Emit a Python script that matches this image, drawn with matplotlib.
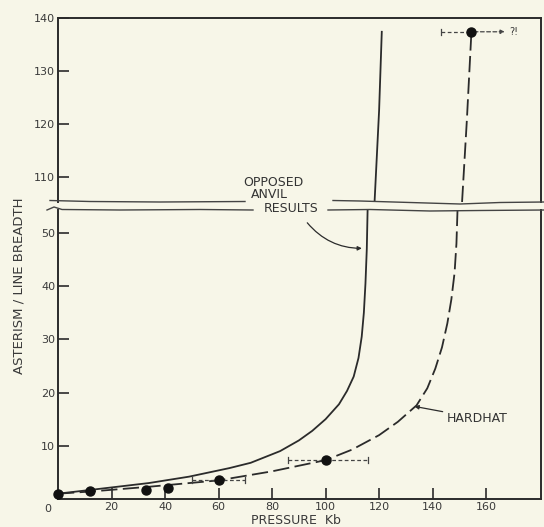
import matplotlib
matplotlib.use("Agg")
import matplotlib.pyplot as plt

# measured points (pressure in Kb, asterism / line breadth)
pts_x = [0, 12, 33, 41, 60, 100]
pts_y = [1.0, 1.5, 1.7, 2.0, 3.6, 7.3]
err_x = [60, 100]
err_y = [3.6, 7.3]
err_lo = [50, 86]
err_hi = [70, 116]
top_pt_x = 154.5
top_pt_y = 137.4
top_err_lo = 143
top_err_hi = 168

# opposed anvil curve (solid)
anvil_x = [0, 12, 34, 49, 64, 72, 83, 90, 95, 100, 105, 108, 110.5, 112.3,
           113.5, 114.3, 114.9, 115.4, 115.7]
anvil_y = [1.0, 1.7, 3.0, 4.2, 5.8, 6.8, 9.0, 11.0, 12.8, 15.0, 17.8, 20.3, 23.0,
           26.5, 30.5, 35.0, 40.5, 47.0, 54.3]
anvil_up_x = [118.3, 120.0, 121.0]
anvil_up_y = [105.3, 122.6, 137.4]

# hardhat curve (dashed)
hard_x = [0, 12, 34, 60, 80, 100, 110, 120, 127, 134, 138, 141, 143.5, 145.5,
          147, 148.2, 148.9, 149.3]
hard_y = [1.0, 1.4, 2.3, 3.5, 5.2, 7.3, 9.3, 12.0, 14.5, 17.6, 20.8, 24.5, 28.5,
          33.0, 37.5, 42.5, 48.0, 54.3]
hard_up_x = [151.0, 152.8, 154.5]
hard_up_y = [105.3, 120.8, 137.4]

bg = "#f7f6e8"
ink = "#2b2b2b"
W, H = 544, 527

fig = plt.figure(figsize=(5.44, 5.27), dpi=100, facecolor=bg)

def fx(px):
    return px / W

def fy(py):
    return 1 - py / H

left, right = fx(58), fx(541)
ax_top = fig.add_axes([left, fy(202), right - left, fy(18) - fy(202)])
ax_bot = fig.add_axes([left, fy(499), right - left, fy(210) - fy(499)])

for ax in (ax_top, ax_bot):
    ax.set_facecolor("none")
    ax.set_xlim(0, 180.5)
    for s in ax.spines.values():
        s.set_color(ink)
        s.set_linewidth(1.4)
    ax.tick_params(direction="in", length=8, width=1.2, color=ink,
                   labelcolor="#3a3a3a", labelsize=8, pad=2)

ax_top.set_ylim(105.3, 140)
ax_top.spines["bottom"].set_visible(False)
ax_top.set_xticks([])
ax_top.set_yticks([110, 120, 130, 140])

ax_bot.set_ylim(0, 54.3)
ax_bot.spines["top"].set_visible(False)
ax_bot.set_yticks([10, 20, 30, 40, 50])
ax_bot.set_xticks([20, 40, 60, 80, 100, 120, 140, 160])
ax_bot.tick_params(axis="x", pad=2)
ax_bot.text(-2.5, -1.0, "0", ha="right", va="top", fontsize=8, color="#3a3a3a")

# curves
ax_bot.plot(anvil_x, anvil_y, color=ink, lw=1.3)
ax_top.plot(anvil_up_x, anvil_up_y, color=ink, lw=1.3)
ax_bot.plot(hard_x, hard_y, color=ink, lw=1.3, dashes=(9, 3))
ax_top.plot(hard_up_x, hard_up_y, color=ink, lw=1.3, dashes=(9, 3))

# points and error bars
ax_bot.plot(pts_x, pts_y, "o", color="#111111", ms=6.5, clip_on=False, zorder=5)
for x, y, lo, hi in zip(err_x, err_y, err_lo, err_hi):
    ax_bot.plot([lo, hi], [y, y], color="#444444", lw=0.9, dashes=(3, 2))
    ax_bot.plot([lo, lo], [y - 0.6, y + 0.6], color="#444444", lw=0.9)
    ax_bot.plot([hi, hi], [y - 0.6, y + 0.6], color="#444444", lw=0.9)

ax_top.plot(top_pt_x, top_pt_y, "o", color="#111111", ms=6.5, zorder=5)
ax_top.plot([top_err_lo, top_pt_x], [top_pt_y, top_pt_y], color="#444444", lw=0.9, dashes=(3, 2))
ax_top.plot([top_err_lo, top_err_lo], [top_pt_y - 0.6, top_pt_y + 0.6], color="#444444", lw=0.9)
ax_top.annotate("", xy=(top_err_hi, top_pt_y), xytext=(top_pt_x, top_pt_y),
                arrowprops=dict(arrowstyle="-|>", color="#444444", lw=0.9,
                                linestyle=(0, (3, 2)), mutation_scale=6))
ax_top.text(top_err_hi + 0.5, top_pt_y, "?!", ha="left", va="center",
            fontsize=7, color="#3a3a3a")

# axis break lines (hand-drawn look), split where the label sits
brk_segments = [
    [(50, 200.5), (90, 201.5), (160, 202), (245, 201.5)],
    [(333, 200.5), (360, 201), (410, 202.5), (460, 204), (500, 202.5), (544, 202)],
    [(47, 210), (54, 207), (62, 209.5), (120, 210), (200, 209.5), (253, 210)],
    [(328, 210), (370, 209.5), (430, 211), (480, 210.5), (544, 210)],
]
for pts in brk_segments:
    fig.add_artist(plt.Line2D([fx(p[0]) for p in pts], [fy(p[1]) for p in pts],
                              color="#444444", lw=1.0, transform=fig.transFigure))

# labels on the break
lbl = dict(fontsize=9, color="#333333", ha="center", va="center")
fig.text(fx(273), fy(183), "OPPOSED", **lbl)
fig.text(fx(269), fy(195), "ANVIL", **lbl)
fig.text(fx(291), fy(209), "RESULTS", **lbl)

ax_bot.annotate("", xy=(114.6, 47.1), xytext=(92.5, 52.3),
                arrowprops=dict(arrowstyle="-|>", color=ink, lw=0.9,
                                connectionstyle="arc3,rad=0.25", mutation_scale=6))
ax_bot.annotate("HARDHAT", xy=(133.2, 17.4), xytext=(145.3, 15.2),
                fontsize=9, color="#333333", ha="left", va="center",
                arrowprops=dict(arrowstyle="-|>", color=ink, lw=0.9,
                                shrinkA=1, shrinkB=0, mutation_scale=6))

fig.text(fx(296), fy(520), "PRESSURE  Kb", fontsize=9, color="#3a3a3a",
         ha="center", va="center")
fig.text(fx(19), fy(286), "ASTERISM / LINE BREADTH", fontsize=9.5,
         color="#3a3a3a", rotation=90, ha="center", va="center")

fig.savefig("out.png", dpi=100, facecolor=bg)
